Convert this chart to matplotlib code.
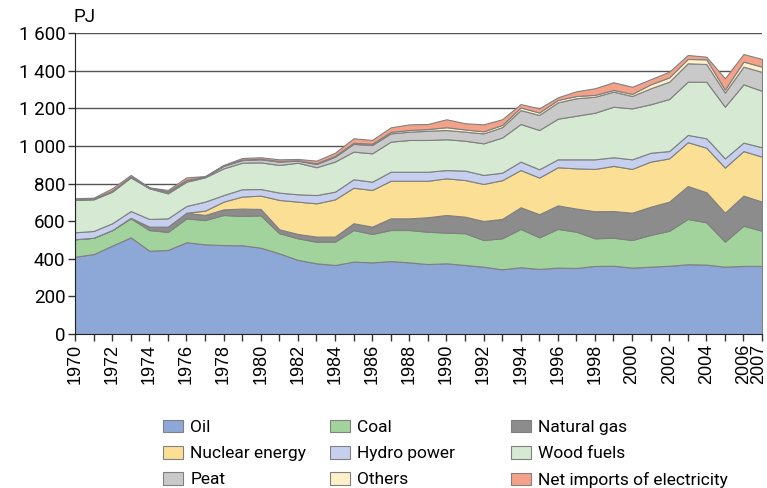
import matplotlib.pyplot as plt
import matplotlib.transforms as mtransforms
import numpy as np

plt.rcParams['font.family'] = ['Roboto', 'DejaVu Sans']

years = list(range(1970, 2008))

oil = [411, 425, 470, 514, 443, 447, 488, 477, 473, 472, 459, 429, 394, 376, 367, 385, 381, 388, 381,
       372, 376, 367, 358, 344, 355, 346, 353, 351, 362, 363, 353, 358, 363, 371, 369, 358, 362, 362]
coal = [93, 87, 83, 101, 110, 96, 127, 129, 160, 156, 172, 107, 115, 115, 124, 168, 151, 165, 172,
        172, 163, 169, 142, 165, 204, 168, 206, 193, 147, 149, 147, 169, 186, 241, 225, 133, 214, 187]
gas = [0, 0, 0, 3, 18, 28, 30, 27, 30, 39, 34, 21, 23, 27, 27, 36, 39, 62, 62,
       77, 94, 88, 101, 103, 115, 123, 125, 123, 144, 142, 145, 150, 155, 175, 160, 154, 160, 155]
nuclear = [0, 0, 0, 0, 0, 0, 0, 23, 41, 64, 71, 156, 172, 177, 198, 189, 195, 200, 200,
           194, 195, 195, 197, 206, 198, 195, 203, 214, 225, 240, 233, 240, 230, 233, 237, 240, 237, 239]
hydro = [37, 36, 36, 36, 41, 44, 36, 48, 35, 39, 35, 39, 39, 44, 41, 45, 44, 48, 48,
         48, 44, 50, 48, 40, 45, 44, 42, 48, 51, 46, 51, 47, 39, 39, 50, 49, 45, 50]
wood = [172, 168, 168, 179, 163, 133, 129, 129, 142, 141, 142, 147, 168, 148, 160, 147, 151, 160, 169,
        169, 164, 159, 168, 187, 200, 209, 216, 232, 248, 269, 271, 258, 277, 283, 301, 275, 310, 300]
peat = [3, 3, 5, 4, 2, 8, 8, 3, 13, 14, 16, 18, 11, 17, 26, 41, 44, 44, 44,
        49, 49, 48, 53, 55, 74, 80, 87, 93, 85, 80, 66, 85, 92, 98, 94, 75, 94, 101]
others = [1, 1, 1, 1, 1, 2, 2, 1, 2, 3, 3, 3, 2, 4, 5, 6, 7, 8, 9,
          9, 15, 12, 11, 12, 14, 13, 13, 12, 10, 9, 11, 21, 23, 23, 25, 16, 27, 28]
imports = [5, 5, 12, 8, 2, 8, 13, 3, 3, 8, 8, 9, 7, 14, 16, 24, 20, 24, 30,
           27, 42, 33, 37, 30, 18, 22, 14, 25, 35, 41, 38, 27, 30, 21, 14, 60, 40, 41]

labels = ["Oil", "Coal", "Natural gas", "Nuclear energy", "Hydro power", "Wood fuels",
          "Peat", "Others", "Net imports of electricity"]
colors = ["#8da8d6", "#a2d39c", "#8c8c8c", "#fadf95", "#c6d0ee", "#d5e9d3",
          "#c9c9c9", "#fdf1c9", "#f4a189"]

fig = plt.figure(figsize=(7.67, 4.88), dpi=100)
ax = fig.add_axes([0.0978, 0.3156, 0.8957, 0.6164])

for yv in range(200, 1601, 200):
    ax.axhline(yv, color="#555555", lw=1.0, zorder=0)

polys = ax.stackplot(years, oil, coal, gas, nuclear, hydro, wood, peat, others, imports,
                     colors=colors, edgecolor="#808080", linewidth=0.8, zorder=2)

ax.set_xlim(1970, 2007)
ax.set_ylim(0, 1600)
ax.set_yticks(range(0, 1601, 200))
ax.set_yticklabels(["0", "200", "400", "600", "800", "1 000", "1 200", "1 400", "1 600"], fontsize=13.5)
ax.set_xticks(years)
ax.set_xticklabels([str(y) if (y % 2 == 0 or y == 2007) else "" for y in years],
                   rotation=90, fontsize=13, family=["Liberation Sans", "DejaVu Sans"])
ax.tick_params(axis="both", direction="out", length=5, width=1, color="#333333", pad=2)
# nudge the last year label so it stays inside the picture
last = ax.get_xticklabels()[-1]
last.set_transform(last.get_transform() + mtransforms.ScaledTranslation(-3 / 100, 0, fig.dpi_scale_trans))

ax.spines["top"].set_visible(False)
ax.spines["right"].set_visible(False)
ax.spines["left"].set_color("#222222")
ax.spines["bottom"].set_color("#222222")
ax.spines["left"].set_zorder(3)
ax.spines["bottom"].set_zorder(3)

ax.text(-0.002, 1.025, "PJ", transform=ax.transAxes, fontsize=13.5, ha="left", va="bottom")

# one legend per column, rows read across like the original
columns = [[0, 3, 6], [1, 4, 7], [2, 5, 8]]
col_x = [0.213, 0.430, 0.666]
for idx, x0 in zip(columns, col_x):
    leg = fig.legend([polys[i] for i in idx], [labels[i] for i in idx],
                     loc="upper left", bbox_to_anchor=(x0, 0.14), frameon=False,
                     fontsize=12.5, handlelength=1.15, handleheight=0.75, handletextpad=0.4,
                     labelspacing=0.62, borderaxespad=0, borderpad=0)

plt.savefig("out.png", dpi=100)
